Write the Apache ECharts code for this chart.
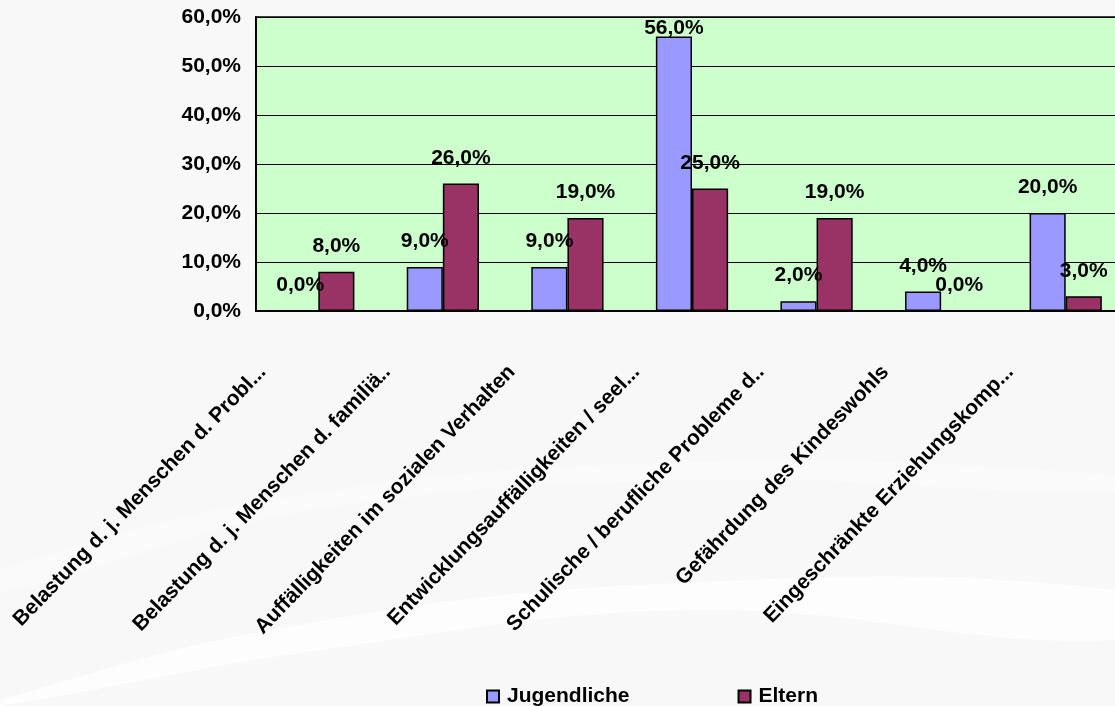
<!DOCTYPE html>
<html>
<head>
<meta charset="utf-8">
<script src="https://cdn.jsdelivr.net/npm/echarts@6/dist/echarts.min.js"></script>
<style>
  html, body { margin: 0; padding: 0; background: #f8f8f8; }
  #chart { width: 1115px; height: 706px; }
</style>
</head>
<body>
<div id="chart"></div>
<script>
// Problem areas named at intake (labels as shown, already shortened)
const categories = [
  'Belastung d. j. Menschen d. Probl...',
  'Belastung d. j. Menschen d. familiä..',
  'Auffälligkeiten im sozialen Verhalten',
  'Entwicklungsauffälligkeiten / seel...',
  'Schulische / berufliche Probleme d..',
  'Gefährdung des Kindeswohls',
  'Eingeschränkte Erziehungskomp...'
];
// Shares in percent
const jugendliche = [0, 9, 9, 56, 2, 4, 20];
const eltern = [8, 26, 19, 25, 19, 0, 3];
const seriesNames = ['Jugendliche', 'Eltern'];
const yTicks = { min: 0, max: 60, step: 10 };

const FONT = "'Liberation Sans', Arial, sans-serif";
const pct = v => v.toFixed(1).replace('.', ',') + '%';

const chart = echarts.init(document.getElementById('chart'), null, { renderer: 'canvas' });

const PLOT_TOP = 17;

function barSeries(name, data, color) {
  return {
    name: name,
    type: 'bar',
    data: data,
    barGap: '0%',
    barCategoryGap: '42%',
    itemStyle: { color: color, borderColor: '#000', borderWidth: 1.5 },
    label: {
      show: true,
      position: 'top',
      distance: 15,
      color: '#000',
      fontFamily: FONT,
      fontWeight: 'bold',
      fontSize: 21,
      formatter: p => pct(p.value)
    },
    // keep value labels from climbing above the plot frame
    labelLayout: function (p) {
      const limit = PLOT_TOP + 1;
      if (p.labelRect && p.labelRect.y < limit) {
        return { dy: limit - p.labelRect.y };
      }
      return {};
    }
  };
}

// soft white swooshes in the page background
const swooshes = [
  {
    points: [[0, 700], [260, 632], [640, 585], [1115, 590], [1115, 640], [700, 610], [320, 650], [0, 706]],
    opacity: 0.75
  },
  {
    points: [[0, 570], [300, 495], [700, 462], [1115, 475], [1115, 492], [700, 480], [300, 512], [0, 592]],
    opacity: 0.35
  }
];

const option = {
  backgroundColor: '#f8f8f8',
  animation: false,
  graphic: swooshes.map(s => ({
    type: 'polygon',
    z: -10,
    silent: true,
    shape: { points: s.points, smooth: 0.4 },
    style: { fill: '#ffffff', opacity: s.opacity }
  })),
  grid: {
    left: 256,
    top: PLOT_TOP,
    width: 872,
    height: 294,
    show: true,
    backgroundColor: '#CCFFCC',
    borderColor: '#000',
    borderWidth: 1.5,
    outerBoundsMode: 'none'
  },
  legend: {
    data: seriesNames,
    left: 486,
    top: 686,
    padding: 0,
    icon: 'rect',
    itemWidth: 12,
    itemHeight: 12,
    itemGap: 108,
    textStyle: {
      color: '#000',
      fontFamily: FONT,
      fontWeight: 'bold',
      fontSize: 21,
      padding: [0, 0, 0, 3]
    }
  },
  xAxis: {
    type: 'category',
    data: categories,
    axisLine: { show: true, lineStyle: { color: '#000', width: 2 } },
    axisTick: { show: false },
    axisLabel: {
      interval: 0,
      rotate: 46,
      margin: 3,
      color: '#000',
      formatter: v => '{a|' + v + '}',
      rich: {
        a: {
          fontFamily: FONT,
          fontWeight: 'bold',
          fontSize: 21,
          color: '#000',
          padding: [0, 78, 4, 0]
        }
      }
    }
  },
  yAxis: {
    type: 'value',
    min: yTicks.min,
    max: yTicks.max,
    interval: yTicks.step,
    axisLine: { show: true, lineStyle: { color: '#000', width: 2 } },
    axisTick: { show: false },
    splitLine: { show: true, lineStyle: { color: '#000', width: 1 } },
    axisLabel: {
      margin: 15,
      color: '#000',
      fontFamily: FONT,
      fontWeight: 'bold',
      fontSize: 21,
      formatter: v => pct(v)
    }
  },
  series: [
    barSeries(seriesNames[0], jugendliche, '#9999FF'),
    barSeries(seriesNames[1], eltern, '#993366')
  ]
};

chart.setOption(option);
</script>
</body>
</html>
